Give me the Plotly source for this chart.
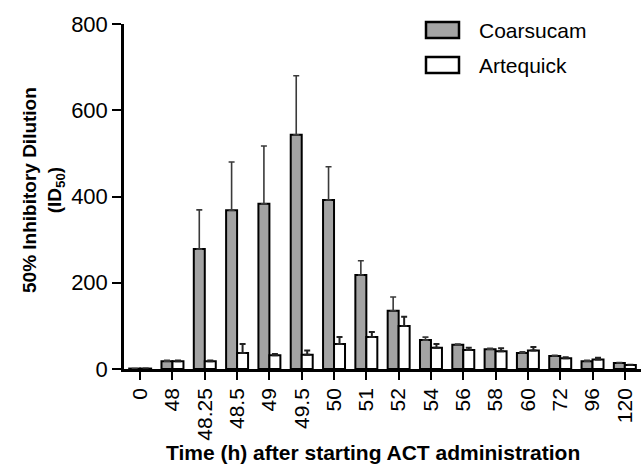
import plotly.graph_objects as go

categories = ["0", "48", "48.25", "48.5", "49", "49.5", "50", "51", "52",
              "54", "56", "58", "60", "72", "96", "120"]
coarsucam = [1, 18, 278, 368, 383, 543, 392, 218, 135, 67, 56, 46, 37, 30, 18, 14]
coarsucam_err_top = [1, 20, 369, 480, 517, 680, 469, 251, 167, 74, 58, 48, 40, 32, 20, 15]
artequick = [1, 18, 18, 37, 32, 33, 58, 74, 100, 49, 44, 41, 43, 25, 22, 9]
artequick_err_top = [1, 20, 20, 58, 35, 43, 74, 86, 121, 58, 49, 48, 51, 27, 26, 10]

FONT = "Liberation Sans, Arial, sans-serif"

fig = go.Figure()
fig.add_trace(go.Bar(
    x=categories, y=coarsucam, name="Coarsucam",
    marker=dict(color="#a3a3a3", line=dict(color="black", width=2)),
    error_y=dict(type="data", symmetric=False,
                 array=[t - v for t, v in zip(coarsucam_err_top, coarsucam)],
                 arrayminus=[0] * len(coarsucam),
                 color="#3a3a3a", thickness=1.6, width=3),
))
fig.add_trace(go.Bar(
    x=categories, y=artequick, name="Artequick",
    marker=dict(color="white", line=dict(color="black", width=2)),
    error_y=dict(type="data", symmetric=False,
                 array=[t - v for t, v in zip(artequick_err_top, artequick)],
                 arrayminus=[0] * len(artequick),
                 color="#222222", thickness=2, width=3),
))

W, H = 642, 466
L, R, T, B = 124, 1, 24, 97
pw = W - L - R
ph = H - T - B

def px(x):
    return (x - L) / pw

def py(y):
    return 1 - (y - T) / ph

fig.update_layout(
    width=W, height=H, autosize=False,
    margin=dict(l=L, r=R, t=T, b=B),
    paper_bgcolor="white", plot_bgcolor="white",
    barmode="group", bargap=0.32, bargroupgap=0,
    showlegend=False,
    font=dict(family=FONT, color="black"),
    xaxis=dict(
        type="category", categoryorder="array", categoryarray=categories,
        range=[-0.5, 15.5],
        showline=True, linecolor="black", linewidth=2.5,
        ticks="outside", ticklen=8, tickwidth=2, tickcolor="black",
        tickangle=-90, tickfont=dict(size=21, family=FONT),
        showgrid=False, zeroline=False,
    ),
    yaxis=dict(
        range=[0, 800], tickvals=[0, 200, 400, 600, 800],
        showline=True, linecolor="black", linewidth=2.5,
        ticks="outside", ticklen=9, tickwidth=2, tickcolor="black",
        tickfont=dict(size=22, family=FONT),
        showgrid=False, zeroline=False,
    ),
)

# Axis titles
fig.add_annotation(
    x=px(373), y=py(452), xref="paper", yref="paper",
    text="<b>Time (h) after starting ACT administration</b>",
    showarrow=False, font=dict(size=21, family=FONT),
    xanchor="center", yanchor="middle",
)
fig.add_annotation(
    x=px(43), y=py(190), xref="paper", yref="paper",
    text="<b>50% Inhibitory Dilution<br>(ID<sub>50</sub>)</b>",
    textangle=-90, showarrow=False, font=dict(size=19, family=FONT),
    xanchor="center", yanchor="middle",
)

# Legend
legend_items = [("Coarsucam", "#a3a3a3", 30), ("Artequick", "white", 65)]
for name, color, cy in legend_items:
    fig.add_shape(type="rect", xref="paper", yref="paper",
                  x0=px(426), x1=px(459), y0=py(cy - 8), y1=py(cy + 8),
                  fillcolor=color, line=dict(color="black", width=2.5))
    fig.add_annotation(x=px(477), y=py(cy), xref="paper", yref="paper",
                       text=name, showarrow=False,
                       font=dict(size=21, family=FONT),
                       xanchor="left", yanchor="middle")

fig.write_html("out.html")
